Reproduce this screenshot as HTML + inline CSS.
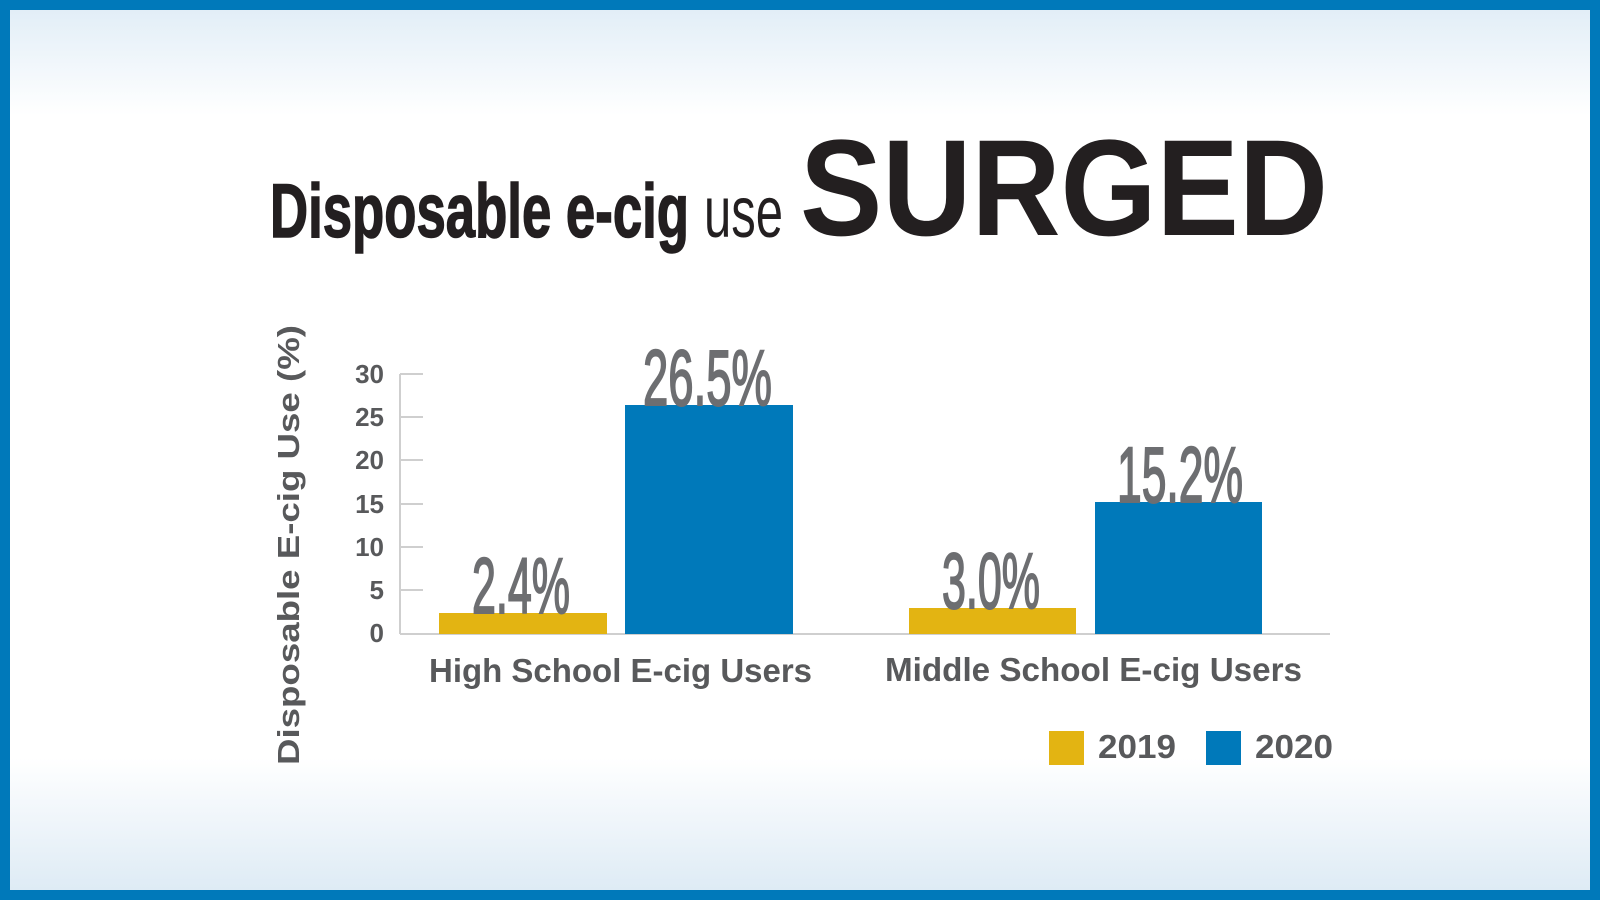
<!DOCTYPE html>
<html><head><meta charset="utf-8"><style>
html,body{margin:0;padding:0;width:1600px;height:900px;overflow:hidden}
body{background:#0079ba}
</style></head><body>
<svg width="1600" height="900" xmlns="http://www.w3.org/2000/svg">
<defs>
<linearGradient id="bg" x1="0" y1="0" x2="0" y2="1">
<stop offset="0" stop-color="#e2eef7"/><stop offset="0.12" stop-color="#ffffff"/>
<stop offset="0.85" stop-color="#ffffff"/><stop offset="1" stop-color="#deebf5"/>
</linearGradient>
</defs>
<rect x="0" y="0" width="1600" height="900" fill="#0079ba"/>
<rect x="10" y="10" width="1580" height="880" fill="url(#bg)"/>
<g font-family="Liberation Sans, sans-serif" font-weight="bold">
<text x="270" y="237" font-size="76" fill="#231f20" stroke="#231f20" stroke-width="1.5" textLength="419" lengthAdjust="spacingAndGlyphs">Disposable e-cig</text>
<text x="704" y="237" font-size="72" font-weight="normal" fill="#231f20" textLength="79" lengthAdjust="spacingAndGlyphs">use</text>
<text x="800" y="235" font-size="137" fill="#231f20" textLength="528" lengthAdjust="spacingAndGlyphs">SURGED</text>
<g stroke="#cfcfcf" stroke-width="2">
<line x1="400" y1="374" x2="400" y2="634"/>
<line x1="400" y1="634" x2="1330" y2="634"/>
<line x1="400" y1="374" x2="423" y2="374"/>
<line x1="400" y1="417" x2="423" y2="417"/>
<line x1="400" y1="460" x2="423" y2="460"/>
<line x1="400" y1="504" x2="423" y2="504"/>
<line x1="400" y1="547" x2="423" y2="547"/>
<line x1="400" y1="590" x2="423" y2="590"/>
</g>
<g font-size="26" fill="#58595b" text-anchor="end">
<text x="384" y="383">30</text><text x="384" y="426">25</text><text x="384" y="469">20</text>
<text x="384" y="513">15</text><text x="384" y="556">10</text><text x="384" y="599">5</text><text x="384" y="642">0</text>
</g>
<text transform="translate(299,545) rotate(-90)" text-anchor="middle" font-size="31" fill="#58595b" textLength="440" lengthAdjust="spacingAndGlyphs">Disposable E-cig Use (%)</text>
<rect x="439" y="613" width="168" height="21" fill="#e3b412"/>
<rect x="625" y="405" width="168" height="229" fill="#0079ba"/>
<rect x="909" y="608" width="167" height="26" fill="#e3b412"/>
<rect x="1095" y="502" width="167" height="132" fill="#0079ba"/>
<g fill="#6d6e71" font-size="79" stroke="#6d6e71" stroke-width="2">
<text x="472" y="613" textLength="98" lengthAdjust="spacingAndGlyphs" font-weight="normal">2.4%</text>
<text x="643" y="405" textLength="129" lengthAdjust="spacingAndGlyphs" font-weight="normal">26.5%</text>
<text x="942" y="608" textLength="98" lengthAdjust="spacingAndGlyphs" font-weight="normal">3.0%</text>
<text x="1117" y="502" textLength="126" lengthAdjust="spacingAndGlyphs" font-weight="normal">15.2%</text>
</g>
<g font-size="33" fill="#58595b">
<text x="429" y="682" textLength="383" lengthAdjust="spacingAndGlyphs">High School E-cig Users</text>
<text x="885" y="681" textLength="417" lengthAdjust="spacingAndGlyphs">Middle School E-cig Users</text>
<text x="1098" y="758" textLength="78" lengthAdjust="spacingAndGlyphs">2019</text>
<text x="1255" y="758" textLength="78" lengthAdjust="spacingAndGlyphs">2020</text>
</g>
<rect x="1049" y="731" width="35" height="34" fill="#e3b412"/>
<rect x="1206" y="731" width="35" height="34" fill="#0079ba"/>
</g>
</svg>
</body></html>
